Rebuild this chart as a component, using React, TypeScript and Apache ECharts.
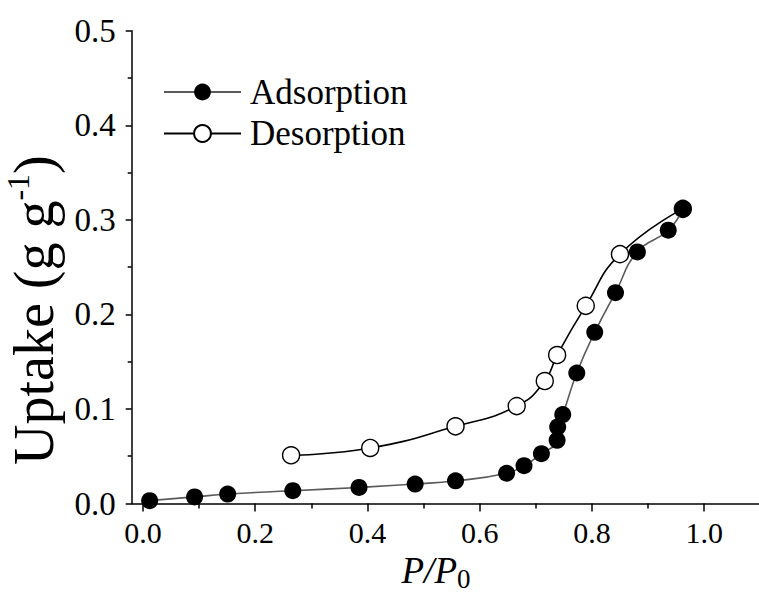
import React, { useEffect, useRef } from "react";
import * as echarts from "echarts";

const adsorptionX = [0.012, 0.092, 0.151, 0.267, 0.385, 0.485, 0.557, 0.648, 0.679, 0.71, 0.738, 0.739, 0.748, 0.773, 0.805, 0.842, 0.881, 0.936, 0.962];
const adsorptionY = [0.003, 0.007, 0.01, 0.0135, 0.017, 0.0206, 0.024, 0.032, 0.04, 0.0527, 0.0668, 0.081, 0.094, 0.138, 0.181, 0.223, 0.266, 0.289, 0.3116];
const desorptionX = [0.264, 0.405, 0.557, 0.666, 0.716, 0.738, 0.789, 0.85, 0.962];
const desorptionY = [0.051, 0.0587, 0.0816, 0.103, 0.1295, 0.157, 0.209, 0.2637, 0.3116];
const xMajorTicks = [0, 0.2, 0.4, 0.6, 0.8, 1.0];
const xMinorTicks = [0.1, 0.3, 0.5, 0.7, 0.9, 1.1];
const seriesNames = ["Adsorption", "Desorption"];

const FONT = "'Liberation Serif', 'Times New Roman', serif";

export default function App() {
  const ref = useRef<HTMLDivElement>(null);
  useEffect(() => {
    document.body.style.margin = "0";
    const chart = echarts.init(ref.current!, null, { renderer: "svg" });
    const ads = adsorptionX.map((x, i) => [x, adsorptionY[i]]);
    const des = desorptionX.map((x, i) => [x, desorptionY[i]]);
    chart.setOption({
      animation: false,
      backgroundColor: "#fff",
      grid: { left: 131.7, right: -1.3, top: 30.7, bottom: 89.5, containLabel: false, outerBoundsMode: "none" },
      legend: {
        data: seriesNames,
        orient: "vertical",
        left: 163,
        top: 74.5,
        padding: 0,
        itemWidth: 77,
        itemHeight: 21,
        itemGap: 6.5,
        textStyle: { fontFamily: FONT, fontSize: 35, color: "#000", padding: [0, 0, 0, 4] },
      },
      xAxis: [
        {
          type: "value",
          min: -0.02,
          max: 1.1,
          position: "bottom",
          axisLine: { show: true, onZero: false, lineStyle: { color: "#000", width: 1.5 } },
          axisTick: { show: true, length: 8, customValues: xMajorTicks, lineStyle: { color: "#000", width: 1.5 } },
          axisLabel: {
            customValues: xMajorTicks,
            formatter: (v: number) => v.toFixed(1),
            fontFamily: FONT,
            fontSize: 30,
            color: "#000",
            margin: 14,
          },
          splitLine: { show: false },
          name: "{i|P/P}{sub|0}",
          nameLocation: "middle",
          nameGap: 43,
          nameTextStyle: {
            padding: [0, 20, 0, 0],
            rich: {
              i: { fontFamily: FONT, fontStyle: "italic", fontSize: 37, color: "#000", lineHeight: 37, padding: [0, 0, 7, 0] },
              sub: { fontFamily: FONT, fontSize: 27, color: "#000", lineHeight: 24, verticalAlign: "bottom" },
            },
          },
        },
        {
          type: "value",
          min: -0.02,
          max: 1.1,
          position: "bottom",
          axisLine: { show: false, onZero: false },
          axisTick: { show: true, length: 5, customValues: xMinorTicks, lineStyle: { color: "#000", width: 1.5 } },
          axisLabel: { show: false },
          splitLine: { show: false },
        },
      ],
      yAxis: {
        type: "value",
        min: 0,
        max: 0.5,
        interval: 0.1,
        axisLine: { show: true, onZero: false, lineStyle: { color: "#000", width: 1.5 } },
        axisTick: { show: true, length: 6, lineStyle: { color: "#000", width: 1.5 } },
        minorTick: { show: true, splitNumber: 2, length: 4, lineStyle: { color: "#000", width: 1.5 } },
        axisLabel: {
          formatter: (v: number) => v.toFixed(1),
          fontFamily: FONT,
          fontSize: 33,
          color: "#000",
          margin: 16,
        },
        splitLine: { show: false },
        name: "{m|Uptake (g g}{sup|-1}{m|)}",
        nameLocation: "middle",
        nameRotate: 90,
        nameGap: 70,
        nameTextStyle: {
          padding: [0, 86, 0, 0],
          rich: {
            m: { fontFamily: FONT, fontSize: 56, color: "#000", lineHeight: 60, verticalAlign: "bottom" },
            sup: { fontFamily: FONT, fontSize: 32, color: "#000", lineHeight: 32, verticalAlign: "top" },
          },
        },
      },
      series: [
        {
          name: "Desorption",
          type: "line",
          data: des,
          smooth: 0.5,
          symbol: "circle",
          symbolSize: 17,
          lineStyle: { color: "#000", width: 1.6 },
          itemStyle: { color: "#fff", borderColor: "#000", borderWidth: 1.4 },
          z: 2,
        },
        {
          name: "Adsorption",
          type: "line",
          data: ads,
          smooth: 0.5,
          symbol: "circle",
          symbolSize: 17,
          lineStyle: { color: "#5a5a5a", width: 1.6 },
          itemStyle: { color: "#000", borderColor: "#000", borderWidth: 0 },
          z: 3,
        },
      ],
    });
    return () => chart.dispose();
  }, []);
  return <div ref={ref} style={{ position: "absolute", left: 0, top: 0, width: 759, height: 593, background: "#fff" }} />;
}
